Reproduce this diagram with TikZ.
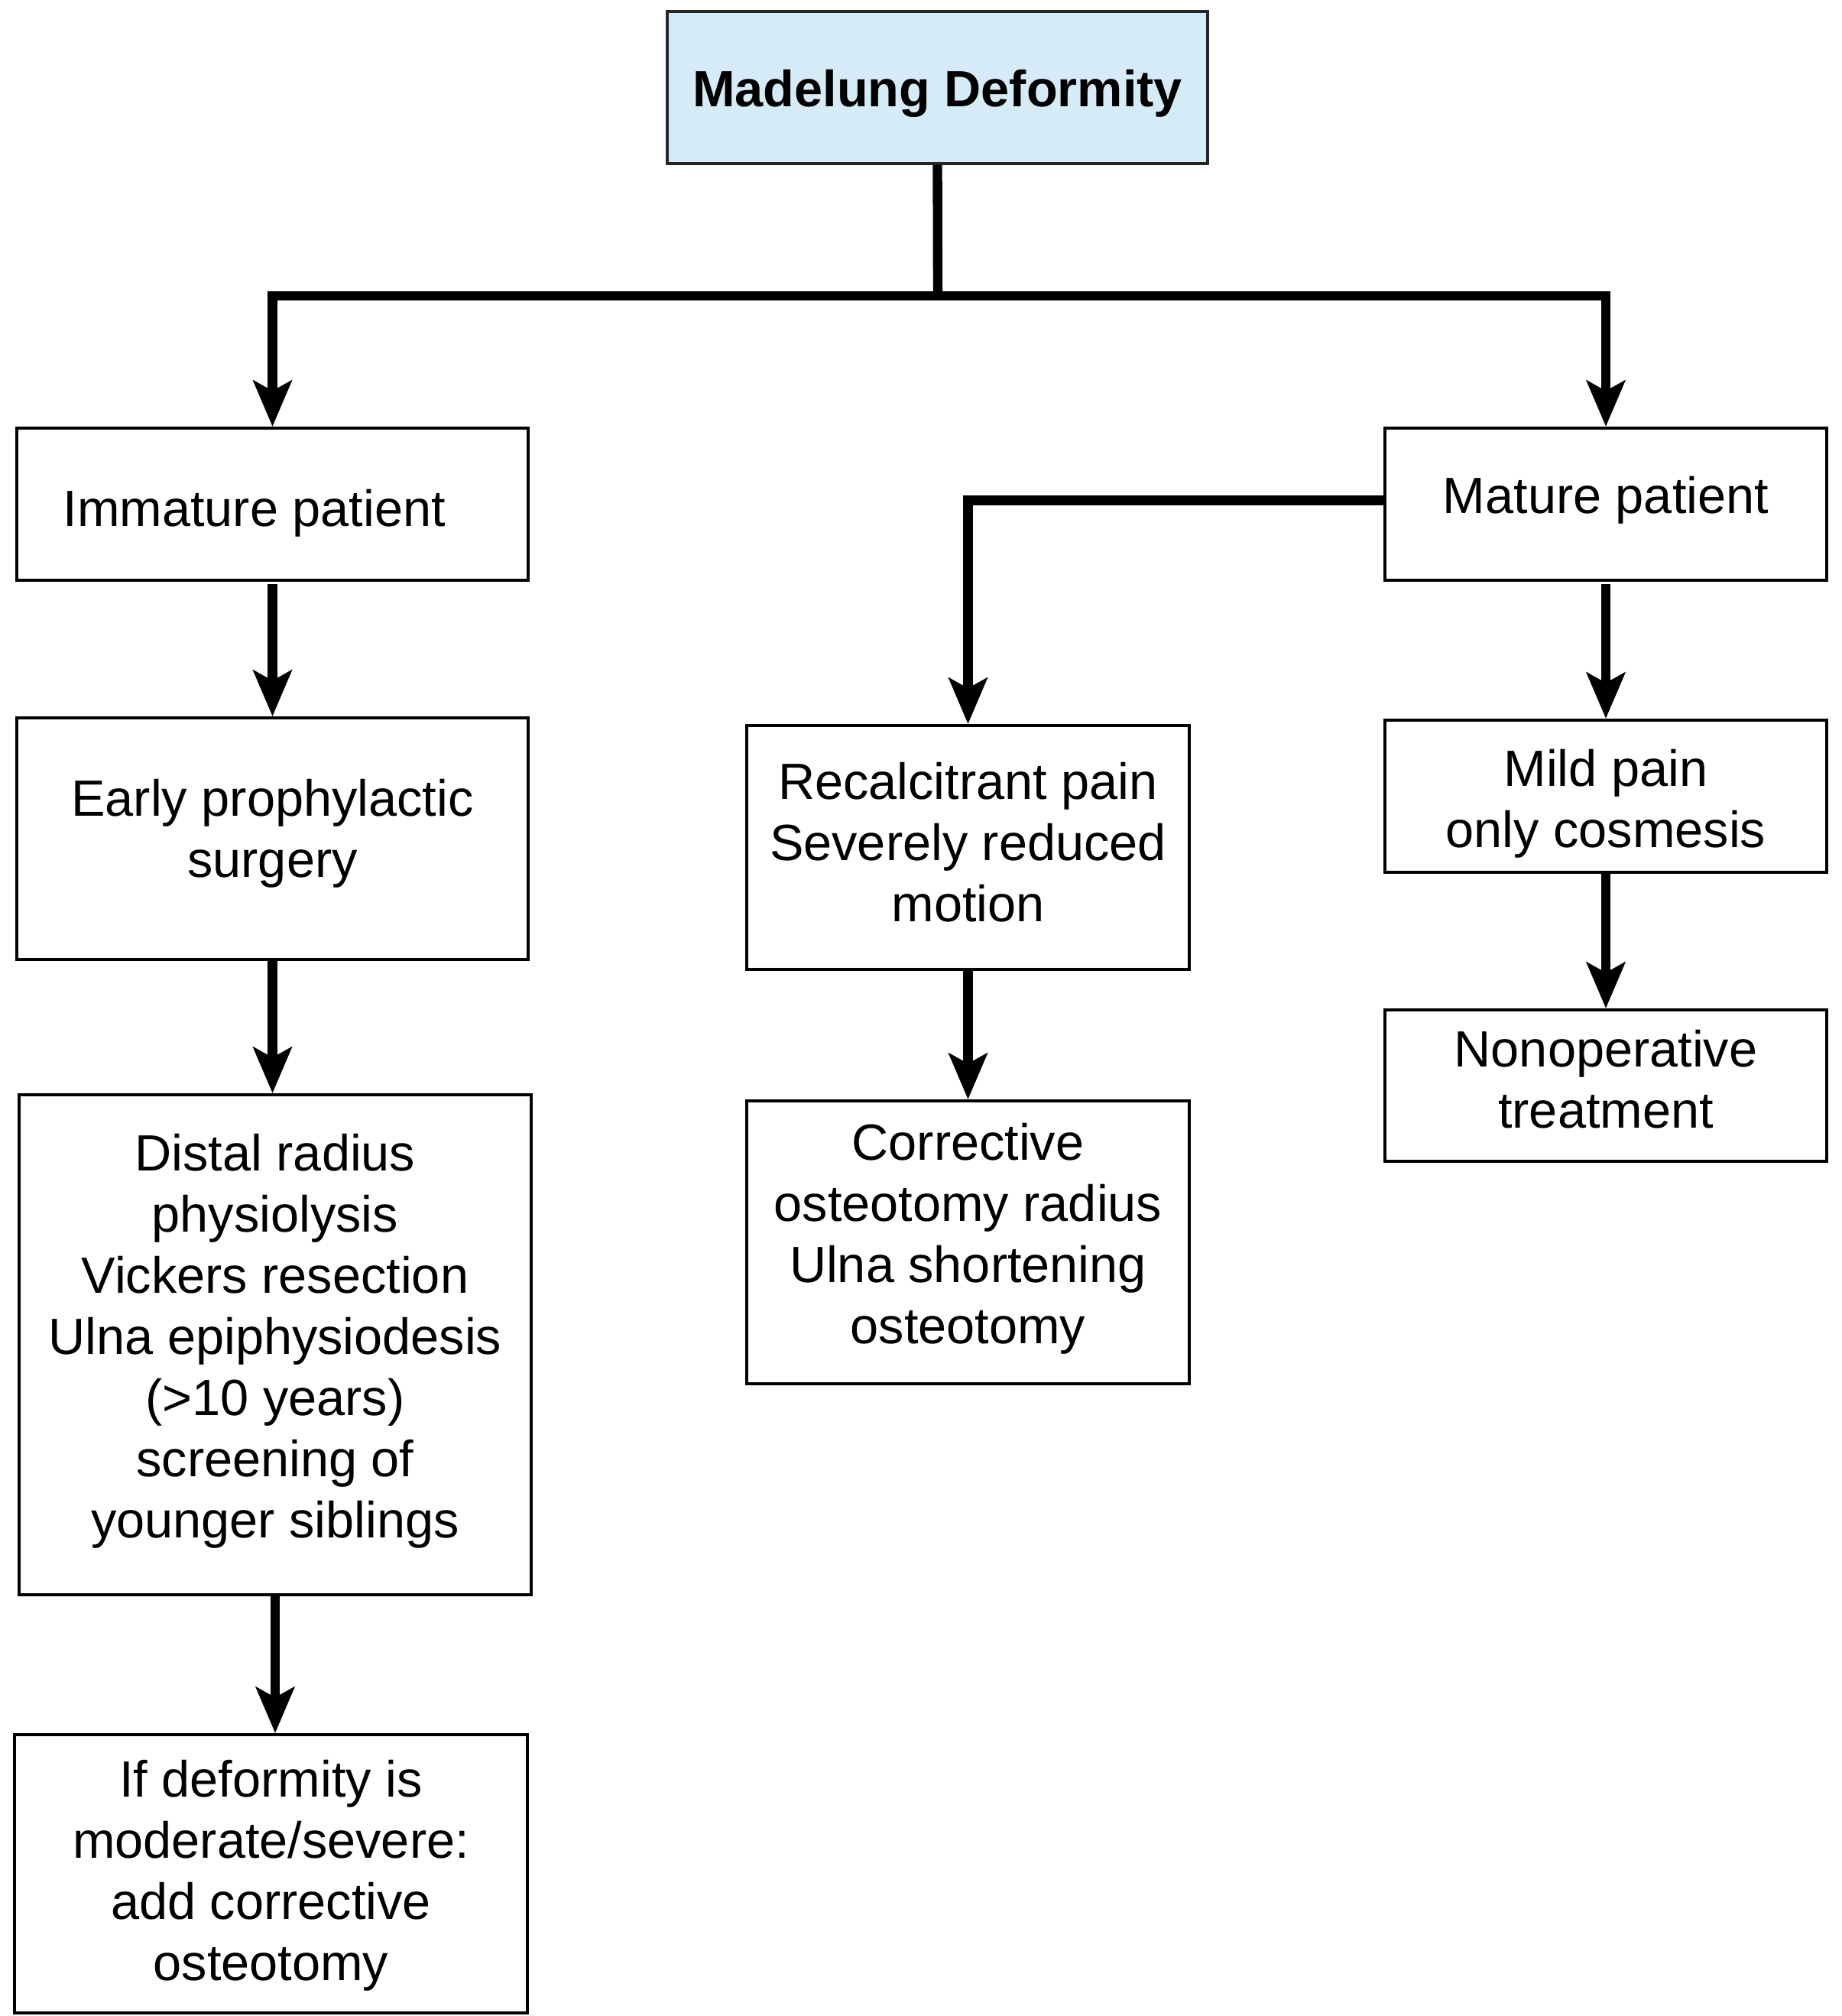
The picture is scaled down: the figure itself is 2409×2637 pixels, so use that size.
\documentclass[tikz,border=0pt]{standalone}
\usepackage{fontspec}
\setmainfont{Liberation Sans}
\usetikzlibrary{arrows.meta}
\definecolor{topblue}{RGB}{213,236,248}
\begin{document}
\begin{tikzpicture}[x=0.3pt,y=-0.3pt,
  sz/.style 2 args={minimum width=#1*0.3pt, minimum height=#2*0.3pt},
  txt/.style={align=center, inner sep=0pt, font=\fontsize{20}{24}\selectfont},
  box/.style={draw=black, line width=1.2pt, fill=white, inner sep=0pt},
  conn/.style={line width=3.7pt},
  arr/.style={line width=3.7pt, -{Stealth[length=18pt,width=15pt,inset=4pt]}},
]
\useasboundingbox (0,0) rectangle (2409,2637);
% boxes
\node[box, fill=topblue, draw=black!85, line width=1pt, sz={707}{199}] (top) at (1226.5,114.5) {};
\node[box, sz={669}{199}] (imm) at (356.5,659.5) {};
\node[box, sz={578}{199}] (mat) at (2101,659.5) {};
\node[box, sz={669}{316}] (early) at (356.5,1097) {};
\node[box, sz={670}{654}] (distal) at (360,1759) {};
\node[box, sz={671}{364}] (ifdef) at (354.5,2451) {};
\node[box, sz={579}{319}] (rec) at (1266.5,1108.5) {};
\node[box, sz={579}{370}] (corr) at (1266.5,1625) {};
\node[box, sz={578}{199}] (mild) at (2101,1041.5) {};
\node[box, sz={578}{198}] (nonop) at (2101,1420) {};
% texts
\node[txt] (topT) at ([yshift=-2.4pt]top.center) {\textbf{Madelung Deformity}};
\node[txt, anchor=base west] (immT) at (82,688) {Immature patient};
\node[txt] (matT) at ([yshift=1.5pt]mat.center) {Mature patient};
\node[txt] (earlyT) at ([yshift=2.1pt]early.center) {Early prophylactic\\surgery};
\node[txt] (distalT) at ([yshift=1.5pt]distal.center) {Distal radius\\physiolysis\\Vickers resection\\Ulna epiphysiodesis\\(>10 years)\\screening of\\younger siblings};
\node[txt] (ifdefT) at ([yshift=-0.6pt]ifdef.center) {If deformity is\\moderate/severe:\\add corrective\\osteotomy};
\node[txt] (recT) at ([yshift=2.1pt]rec.center) {Recalcitrant pain\\Severely reduced\\motion};
\node[txt] (corrT) at ([yshift=1.5pt]corr.center) {Corrective\\osteotomy radius\\Ulna shortening\\osteotomy};
\node[txt] (mildT) at ([yshift=-3pt]mild.center) {Mild pain\\only cosmesis};
\node[txt] (nonopT) at ([yshift=2.4pt]nonop.center) {Nonoperative\\treatment};
% connectors
\coordinate (j) at (1227,387);
\draw[conn] (top.south) -- (j);
\draw[arr] (j) -| (imm.north);
\draw[arr] (j) -| (mat.north);
\draw[arr] ([yshift=1.5pt]mat.west) -| (rec.north);
\draw[arr, shorten <=1pt] (imm.south) -- (early.north);
\draw[arr] (early.south) -- (early.south |- distal.north);
\draw[arr] (distal.south) -- (distal.south |- ifdef.north);
\draw[arr] (rec.south) -- (corr.north);
\draw[arr, shorten <=1pt] (mat.south) -- (mild.north);
\draw[arr] (mild.south) -- (nonop.north);
\end{tikzpicture}
\end{document}
